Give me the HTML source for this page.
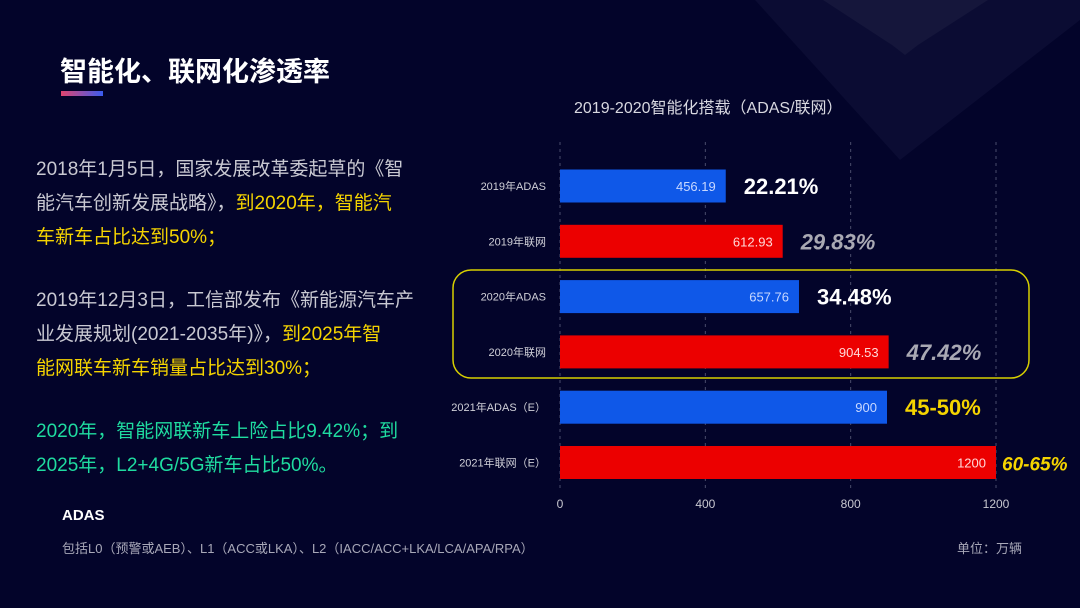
<!DOCTYPE html>
<html><head><meta charset="utf-8"><style>
body{margin:0;width:1080px;height:608px;background:#03042a;overflow:hidden;position:relative;font-family:"Liberation Sans","Noto Sans CJK SC",sans-serif;}
.abs{position:absolute;white-space:nowrap}
.p{font-size:19px;color:#c9c9d2;line-height:34px;left:36px;}
.y{color:#f5d400}.g{color:#1fdca0}
</style></head><body>
<svg class="abs" style="left:0;top:0" width="1080" height="608">
<polygon points="755,0 1080,0 1080,20 900,160" fill="#0b0c33"/>
<polygon points="823,0 988,0 918,45 905,55 892,45" fill="#15163b"/>
</svg>
<div class="abs" style="left:60px;top:50px;font-size:27px;font-weight:bold;color:#fff">智能化、联网化渗透率</div>
<div class="abs" style="left:61px;top:91px;width:42px;height:5px;background:linear-gradient(90deg,#e0456f,#3a5cf0)"></div>
<div class="abs p" style="top:153px">2018年1月5日，国家发展改革委起草的《智<br>能汽车创新发展战略》，<span class="y">到2020年，智能汽<br>车新车占比达到50%；</span></div>
<div class="abs p" style="top:284px">2019年12月3日，工信部发布《新能源汽车产<br>业发展规划(2021-2035年)》，<span class="y">到2025年智<br>能网联车新车销量占比达到30%；</span></div>
<div class="abs p g" style="top:415px">2020年，智能网联新车上险占比9.42%；到<br>2025年，L2+4G/5G新车占比50%。</div>
<div class="abs" style="left:62px;top:507px;font-size:15px;font-weight:bold;color:#fff">ADAS</div>
<div class="abs" style="left:62px;top:538px;font-size:13px;color:#a8a8b8">包括L0（预警或AEB）、L1（ACC或LKA）、L2（IACC/ACC+LKA/LCA/APA/RPA）</div>
<div class="abs" style="left:957px;top:538px;font-size:13px;color:#a8a8b8">单位：万辆</div>
<div class="abs" style="left:574px;top:94px;font-size:16px;color:#d8d8e0">2019-2020智能化搭载（ADAS/联网）</div>
<svg class="abs" id="chart" style="left:0;top:0" width="1080" height="608"></svg>
<script>
const categories=["2019年ADAS","2019年联网","2020年ADAS","2020年联网","2021年ADAS（E）","2021年联网（E）"];
const values=[456.19,612.93,657.76,904.53,900,1200];
const valueLabels=["456.19","612.93","657.76","904.53","900","1200"];
const pctLabels=["22.21%","29.83%","34.48%","47.42%","45-50%","60-65%"];
const pctColors=["#fff","#a9a9b3","#fff","#a9a9b3","#f5d400","#f5d400"];
const pctItalic=[false,true,false,true,false,true];
const ticks=[0,400,800,1200];
const NS="http://www.w3.org/2000/svg",svg=document.getElementById('chart');
const x=v=>560+v*(436/1200), yc=i=>186+i*55.3;
function mk(t,a,txt){const e=document.createElementNS(NS,t);for(const k in a)e.setAttribute(k,a[k]);if(txt!=null)e.textContent=txt;svg.appendChild(e);return e;}
ticks.forEach(t=>{
const l=mk('line',{x1:x(t),x2:x(t),y1:142,y2:492,stroke:'#4a4c6c','stroke-dasharray':'3,4'});


const tx=mk('text',{x:x(t),y:508,'text-anchor':'middle','font-size':12,fill:'#c8c8d0'},t);


});
const box=mk('rect',{x:453,y:270,width:576,height:108,rx:18,fill:'none',stroke:'#d8d000','stroke-width':1.5});


categories.forEach((c,i)=>{
const y=yc(i);
const b=mk('rect',{x:x(0),y:y-16.5,width:x(values[i])-x(0),height:33,fill:i%2?'#ec0000':'#0f58e8'});


const cl=mk('text',{x:546,y:y+4,'text-anchor':'end','font-size':11,fill:'#d0d0d8'},c);


const vl=mk('text',{x:x(values[i])-10,y:y+5,'text-anchor':'end','font-size':13,fill:i%2?'#ffd8d8':'#c8d8ff'},valueLabels[i]);


const pl=mk('text',{x:x(values[i])+(i==5?6:18),y:y+8,'font-size':i==5?19:22,'font-weight':'bold','font-style':pctItalic[i]?'italic':'normal',fill:pctColors[i]},pctLabels[i]);


});
</script>
</body></html>
